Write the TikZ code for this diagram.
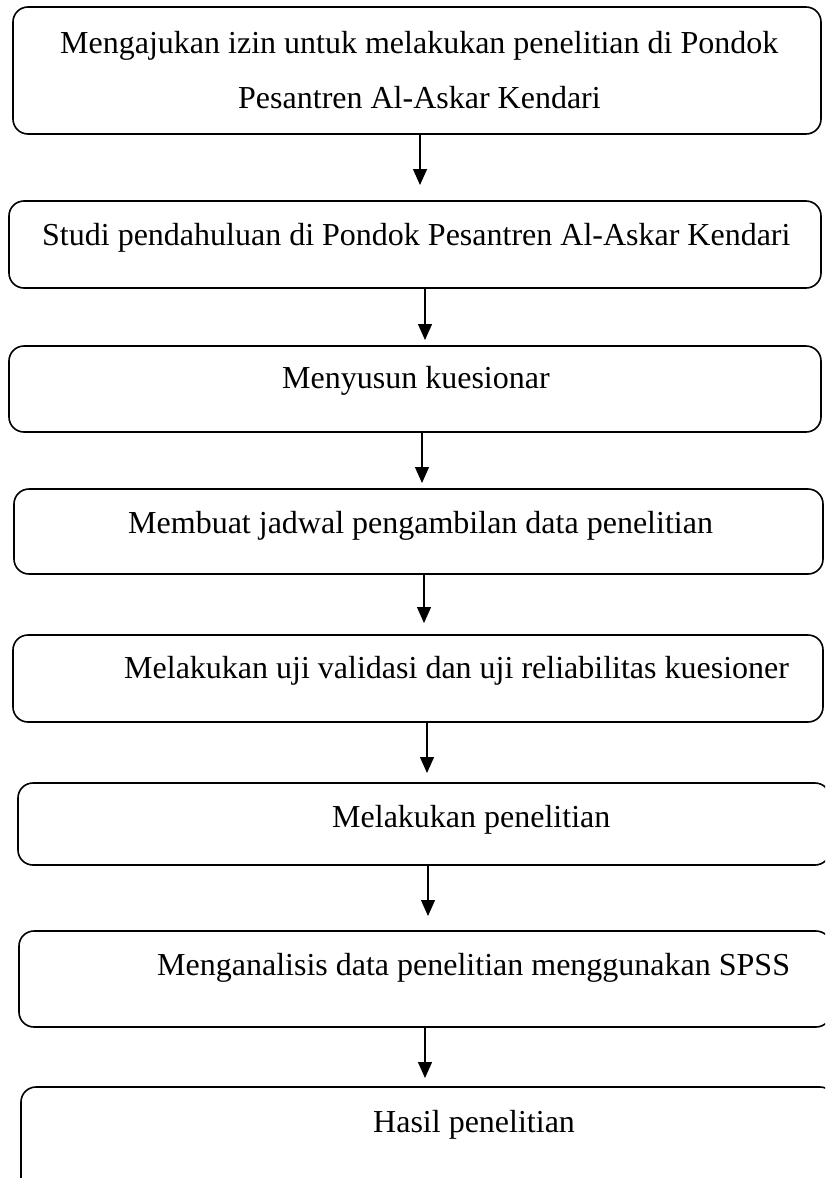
\documentclass[tikz,border=0pt]{standalone}
\usepackage{fontspec}
\setmainfont{Liberation Serif}
\usetikzlibrary{arrows.meta}
\begin{document}
\begin{tikzpicture}[x=1pt,y=-1pt,
  box/.style={draw, line width=1.6pt, rounded corners=15pt, rectangle, inner sep=0pt},
  lbl/.style={anchor=base west, inner sep=0pt, font=\fontsize{32}{38}\selectfont},
  arr/.style={line width=1.3pt, -{Triangle[length=16pt,width=14pt]}}]
\useasboundingbox (0,0) rectangle (825,1178);
\clip (0,0) rectangle (825,1178);
% boxes
\node[box, minimum width=808pt, minimum height=127pt] (b1) at (417,70.5) {};
\node[box, minimum width=812pt, minimum height=87pt] (b2) at (415,244.5) {};
\node[box, minimum width=812pt, minimum height=86pt] (b3) at (415,389) {};
\node[box, minimum width=809pt, minimum height=85pt] (b4) at (418.5,531.5) {};
\node[box, minimum width=810pt, minimum height=87pt] (b5) at (418,678.5) {};
\node[box, minimum width=812pt, minimum height=82pt] (b6) at (424,824) {};
\node[box, minimum width=812pt, minimum height=96pt] (b7) at (425,979) {};
\node[box, minimum width=814pt, minimum height=113pt] (b8) at (428,1143.5) {};
% texts
\node[lbl] (t1a) at (60,53) {Mengajukan izin untuk melakukan penelitian di Pondok};
\node[lbl] (t1b) at (238,108) {Pesantren Al-Askar Kendari};
\node[lbl] (t2) at (42,245) {Studi pendahuluan di Pondok Pesantren Al-Askar Kendari};
\node[lbl] (t3) at (282,388) {Menyusun kuesionar};
\node[lbl] (t4) at (128,533) {Membuat jadwal pengambilan data penelitian};
\node[lbl] (t5) at (124,678) {Melakukan uji validasi dan uji reliabilitas kuesioner};
\node[lbl] (t6) at (332,827) {Melakukan penelitian};
\node[lbl] (t7) at (157,975) {Menganalisis data penelitian menggunakan SPSS};
\node[lbl] (t8) at (373,1132) {Hasil penelitian};
% arrow targets
\coordinate (e1) at (420,185);
\coordinate (e2) at (425,340);
\coordinate (e3) at (422,483);
\coordinate (e4) at (424,623);
\coordinate (e5) at (427,773);
\coordinate (e6) at (428,916);
\coordinate (e7) at (425,1078);
\draw[arr] (b1.south -| e1) -- (e1);
\draw[arr] (b2.south -| e2) -- (e2);
\draw[arr] (b3.south -| e3) -- (e3);
\draw[arr] (b4.south -| e4) -- (e4);
\draw[arr] (b5.south -| e5) -- (e5);
\draw[arr] (b6.south -| e6) -- (e6);
\draw[arr] (b7.south -| e7) -- (e7);
\end{tikzpicture}
\end{document}
